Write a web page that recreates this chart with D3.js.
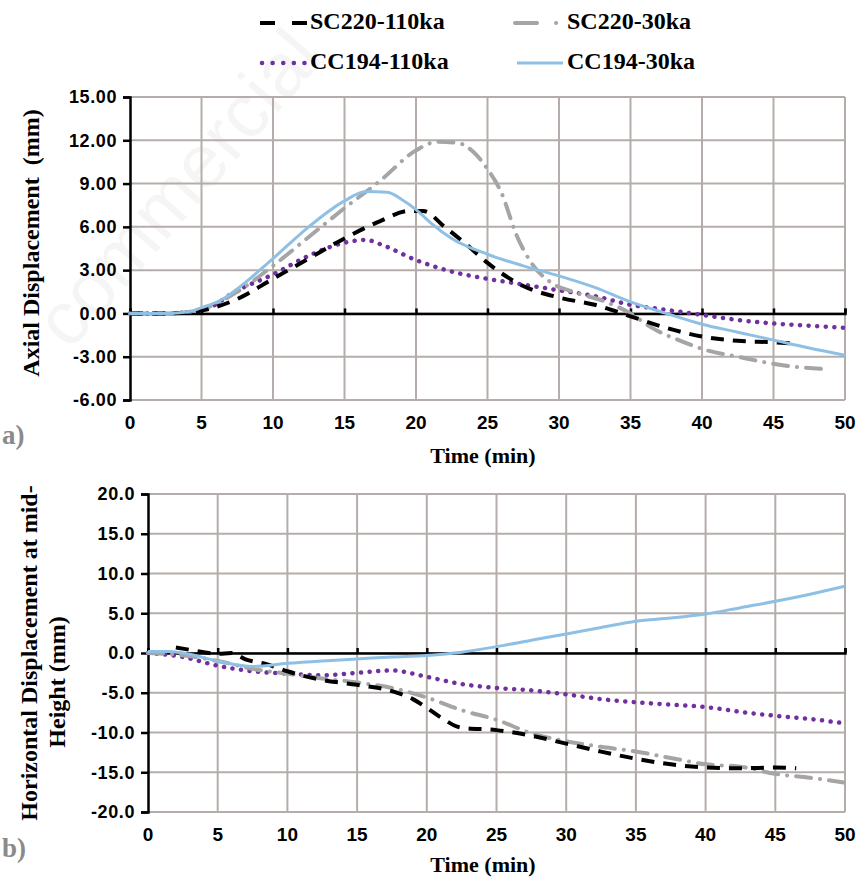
<!DOCTYPE html>
<html>
<head>
<meta charset="utf-8">
<script src="https://cdn.jsdelivr.net/npm/d3@7"></script>
<style>
  html, body { margin: 0; padding: 0; background: #fff; }
  svg { display: block; }
  text { white-space: pre; }
</style>
</head>
<body>
<svg id="chart" width="861" height="882"></svg>
<script>
// ---- Series names and tick values ----
const seriesNames = ["SC220-110ka", "SC220-30ka", "CC194-110ka", "CC194-30ka"];
const timeTicks = [0, 5, 10, 15, 20, 25, 30, 35, 40, 45, 50];
const axialTicks = [15, 12, 9, 6, 3, 0, -3, -6];
const horizTicks = [20, 15, 10, 5, 0, -5, -10, -15, -20];

// ---- (a) Axial displacement (mm) vs time (min): [time, value] ----
const axialSC220_110 = [[0,0],[2.5,0],[4,0.05],[5,0.2],[7.5,1.0],[10,2.4],[12.5,3.8],[15,5.2],[17.5,6.4],[19.5,7.1],[20.5,7.1],[22,6.0],[23.5,4.8],[25,3.5],[27.5,1.9],[30,1.1],[32.5,0.6],[35,-0.2],[37.5,-1.0],[40,-1.6],[42.5,-1.9],[45,-2.0],[46.5,-2.1]];
const axialSC220_30 = [[0,0],[2.5,0],[5,0.3],[7.5,1.5],[10,3.3],[12.5,5.3],[15,7.3],[17.5,9.2],[20,11.3],[21.5,11.9],[23,11.8],[24,11.2],[25,10.0],[26,8.3],[27,5.5],[28,3.6],[29.5,2.1],[31,1.5],[33,0.9],[35,0.0],[36.5,-1.0],[38.5,-1.9],[40.5,-2.6],[42.5,-3.0],[44.5,-3.4],[46.5,-3.7],[48.5,-3.85]];
const axialCC194_110 = [[0,0],[2.5,0],[5,0.2],[7.5,1.6],[10,2.7],[12.5,4.0],[15,4.9],[16.5,5.1],[17.5,4.8],[20,3.7],[22.5,2.9],[25,2.4],[27.5,2.0],[30,1.6],[32.5,1.2],[35,0.6],[37.5,0.25],[40,-0.1],[42.5,-0.45],[45,-0.7],[47.5,-0.85],[50,-1.0]];
const axialCC194_30 = [[0,0],[2.5,0],[4,0.1],[5,0.4],[6.5,1.0],[7.5,1.7],[10,3.8],[12.5,6.0],[15,7.8],[16.5,8.45],[18,8.4],[19,7.9],[20,7.2],[21,6.3],[22.5,5.2],[25,4.1],[27.5,3.3],[30,2.6],[32.5,1.8],[35,0.8],[37.5,0.0],[40,-0.75],[42.5,-1.3],[45,-1.85],[47.5,-2.4],[50,-2.9]];

// ---- (b) Horizontal displacement at mid-height (mm) vs time (min): [time, value] ----
const horizSC220_110 = [[2,0.7],[3,0.4],[4,0.1],[5,-0.1],[6,0],[7,-0.8],[8.5,-1.4],[10,-2.3],[12.5,-3.4],[15,-4.0],[17.5,-4.8],[19,-5.8],[20,-6.9],[21,-8.1],[22.5,-9.4],[25,-9.7],[27.5,-10.4],[30,-11.4],[32.5,-12.4],[35,-13.3],[37.5,-14.0],[40,-14.4],[42.5,-14.5],[45,-14.4],[46.5,-14.5]];
const horizSC220_30 = [[0,0],[2.5,-0.3],[5,-1.0],[7.5,-2.0],[10,-2.6],[12.5,-3.2],[15,-3.7],[17.5,-4.4],[20,-5.6],[22.5,-7.2],[25,-8.4],[27.5,-10.1],[30,-11.1],[32.5,-11.8],[35,-12.4],[37.5,-13.2],[40,-14.0],[42.5,-14.3],[45,-15.2],[47.5,-15.7],[50,-16.3]];
const horizCC194_110 = [[0,0],[2.5,-0.5],[5,-1.6],[7.5,-2.3],[10,-2.6],[12.5,-2.8],[15,-2.5],[17.5,-2.2],[20,-3.0],[22.5,-3.9],[25,-4.4],[27.5,-4.7],[30,-5.2],[32.5,-5.8],[35,-6.2],[37.5,-6.5],[40,-6.8],[42.5,-7.4],[45,-7.9],[47.5,-8.3],[50,-8.85]];
const horizCC194_30 = [[0,0.2],[1.5,0.2],[2.5,0],[5,-1.0],[7.5,-1.7],[10,-1.3],[12.5,-1.0],[15,-0.75],[17.5,-0.5],[20,-0.3],[22.5,0.1],[25,0.8],[27.5,1.6],[30,2.4],[32.5,3.2],[35,4.0],[37.5,4.4],[40,4.9],[42.5,5.7],[45,6.5],[47.5,7.4],[50,8.4]];

// ---- Line styles per series ----
const styles = {
  "SC220-110ka": { color: "#000000", width: 4, dash: "13,9", cap: "butt" },
  "SC220-30ka":  { color: "#a5a5a5", width: 4, dash: "15,9,0.1,9", cap: "round" },
  "CC194-110ka": { color: "#7030a0", width: 4.5, dash: "0.1,8.5", cap: "round" },
  "CC194-30ka":  { color: "#8ec0e6", width: 3, dash: null, cap: "butt" }
};

const svg = d3.select("#chart");
const serif = "'Liberation Serif','Times New Roman',serif";
const sans = "'Liberation Sans',Arial,sans-serif";
const gridColor = "#b5adaa";

// faint background watermark
svg.append("text")
  .attr("transform", "translate(182,192) rotate(-49)")
  .attr("text-anchor", "middle")
  .attr("dominant-baseline", "middle")
  .attr("font-family", sans)
  .attr("font-size", 76)
  .attr("fill", "#000")
  .attr("fill-opacity", 0.04)
  .text("commercial");

function drawPanel(opt) {
  const x = d3.scaleLinear().domain([0, 50]).range([opt.left, opt.right]);
  const y = d3.scaleLinear().domain(opt.yDomain).range([opt.bottom, opt.top]);
  const g = svg.append("g");
  const fmt = d => d3.format(opt.fmt)(d).replace("\u2212", "-");

  // grid
  g.append("g").selectAll("line").data(timeTicks.filter(t => t > 0)).join("line")
    .attr("x1", d => x(d)).attr("x2", d => x(d))
    .attr("y1", y(opt.yDomain[1])).attr("y2", y(opt.yDomain[0]))
    .attr("stroke", gridColor).attr("stroke-width", 2);
  g.append("g").selectAll("line").data(opt.yTicks).join("line")
    .attr("x1", x(0)).attr("x2", x(50))
    .attr("y1", d => y(d)).attr("y2", d => y(d))
    .attr("stroke", gridColor).attr("stroke-width", 2);

  // y axis with outward ticks
  const yAxis = d3.axisLeft(y).tickValues(opt.yTicks).tickSize(7).tickFormat(fmt);
  const ya = g.append("g").attr("transform", `translate(${x(0)},0)`).call(yAxis);
  ya.select(".domain").attr("stroke", "#000").attr("stroke-width", 2.5);
  ya.selectAll(".tick line").attr("stroke", "#000").attr("stroke-width", 2.5);
  ya.selectAll(".tick text")
    .attr("x", -13)
    .attr("font-family", sans).attr("font-weight", "bold")
    .attr("font-size", 18).attr("letter-spacing", 0.6).attr("fill", "#000");

  // zero line with upward ticks
  const xAxis = d3.axisTop(x).tickValues(timeTicks).tickSize(5).tickFormat("");
  const xa = g.append("g").attr("transform", `translate(0,${y(0)})`).call(xAxis);
  xa.select(".domain").attr("stroke", "#000").attr("stroke-width", 2.5);
  xa.selectAll(".tick line").attr("stroke", "#000").attr("stroke-width", 2.5);

  // time labels below the plot
  g.append("g").selectAll("text").data(timeTicks).join("text")
    .attr("x", d => x(d)).attr("y", opt.xLabelY)
    .attr("text-anchor", "middle").attr("dominant-baseline", "middle")
    .attr("font-family", sans).attr("font-weight", "bold").attr("font-size", 19)
    .text(d => d);

  g.append("text")
    .attr("x", 483).attr("y", opt.xTitleY)
    .attr("text-anchor", "middle")
    .attr("font-family", serif).attr("font-weight", "bold").attr("font-size", 22)
    .text("Time (min)");

  // y title
  opt.yTitle.forEach(line => {
    g.append("text")
      .attr("transform", `translate(${line.x},${line.y}) rotate(-90)`)
      .attr("text-anchor", "middle").attr("dominant-baseline", "middle")
      .attr("font-family", serif).attr("font-weight", "bold").attr("font-size", 24)
      .text(line.text);
  });

  // panel letter
  g.append("text")
    .attr("x", 2).attr("y", opt.letterY)
    .attr("font-family", serif).attr("font-weight", "bold").attr("font-size", 27)
    .attr("fill", "#8a8a8a")
    .text(opt.letter);

  // series
  const line = d3.line().x(d => x(d[0])).y(d => y(d[1])).curve(d3.curveMonotoneX);
  opt.series.forEach(([name, data]) => {
    const s = styles[name];
    g.append("path")
      .datum(data)
      .attr("d", line)
      .attr("fill", "none")
      .attr("stroke", s.color)
      .attr("stroke-width", s.width)
      .attr("stroke-linecap", s.cap)
      .attr("stroke-linejoin", "round")
      .attr("stroke-dasharray", s.dash);
  });
}

drawPanel({
  left: 130, right: 845, top: 97, bottom: 400,
  yDomain: [-6, 15], yTicks: axialTicks, fmt: ".2f",
  xLabelY: 424, xTitleY: 463,
  yTitle: [{ x: 33, y: 243, text: "Axial Displacement  (mm)" }],
  letter: "a)", letterY: 444,
  series: [
    ["CC194-110ka", axialCC194_110],
    ["SC220-30ka", axialSC220_30],
    ["SC220-110ka", axialSC220_110],
    ["CC194-30ka", axialCC194_30]
  ]
});

drawPanel({
  left: 148, right: 845, top: 494, bottom: 812,
  yDomain: [-20, 20], yTicks: horizTicks, fmt: ".1f",
  xLabelY: 836, xTitleY: 872,
  yTitle: [
    { x: 31, y: 653, text: "Horizontal Displacement at mid-" },
    { x: 59, y: 682, text: "Height (mm)" }
  ],
  letter: "b)", letterY: 857,
  series: [
    ["CC194-110ka", horizCC194_110],
    ["SC220-30ka", horizSC220_30],
    ["SC220-110ka", horizSC220_110],
    ["CC194-30ka", horizCC194_30]
  ]
});

// ---- legend ----
const legendItems = [
  { name: seriesNames[0], x1: 260, x2: 308, y: 23, dash: "15,17" },
  { name: seriesNames[1], x1: 515, x2: 557, y: 23, dash: "22,19,0.1,40" },
  { name: seriesNames[2], x1: 262, x2: 306, y: 63, dash: "0.1,10.5" },
  { name: seriesNames[3], x1: 517, x2: 563, y: 63, dash: null }
];
const lg = svg.append("g");
legendItems.forEach(it => {
  const s = styles[it.name];
  lg.append("line")
    .attr("x1", it.x1).attr("x2", it.x2).attr("y1", it.y).attr("y2", it.y)
    .attr("stroke", s.color)
    .attr("stroke-width", s.width)
    .attr("stroke-linecap", s.cap)
    .attr("stroke-dasharray", it.dash);
  lg.append("text")
    .attr("x", it.x1 < 400 ? 310 : 567).attr("y", it.y)
    .attr("dominant-baseline", "middle")
    .attr("font-family", serif).attr("font-weight", "bold").attr("font-size", 24)
    .text(it.name);
});
</script>
</body>
</html>
